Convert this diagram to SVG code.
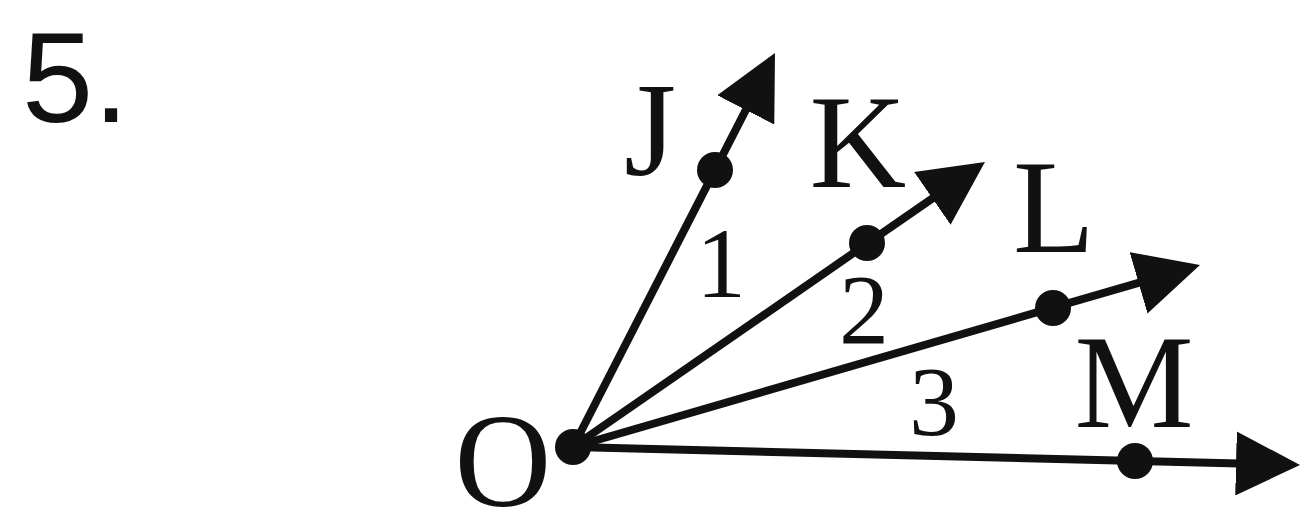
<svg xmlns="http://www.w3.org/2000/svg" width="1303" height="523" viewBox="0 0 1303 523">
  <style>
    .ray { stroke: #111; stroke-width: 8; fill: none; marker-end: url(#arrow); }
    .dot { fill: #111; }
    .lbl { font-family: "Liberation Serif", "Times New Roman", serif; font-size: 134px; fill: #111; text-anchor: middle; }
    .num { font-family: "Liberation Serif", "Times New Roman", serif; font-size: 100px; fill: #111; text-anchor: middle; }
    .title { font-family: "Liberation Sans", Arial, sans-serif; font-size: 128px; fill: #111; }
  </style>
  <defs>
    <marker id="arrow" markerUnits="userSpaceOnUse" viewBox="0 0 64 64" refX="34" refY="32" markerWidth="64" markerHeight="64" orient="auto">
      <path d="M0,0 L64,32 L0,64 z" fill="#111"/>
    </marker>
  </defs>
  <rect width="1303" height="523" fill="#fff"/>
  <text class="title" x="22" y="122">5.</text>
  <g id="connectors">
    <line class="ray" x1="573" y1="447" x2="761.3" y2="79.7"/>
    <line class="ray" x1="573" y1="447" x2="960.3" y2="179.1"/>
    <line class="ray" x1="573" y1="447" x2="1171.2" y2="273.4"/>
    <line class="ray" x1="573" y1="447" x2="1270" y2="464.3"/>
  </g>
  <g id="node-O">
    <circle class="dot" cx="573" cy="447" r="18"/>
    <text class="lbl" x="503" y="506">O</text>
  </g>
  <g id="node-J">
    <circle class="dot" cx="715" cy="170" r="18"/>
    <text class="lbl" x="650" y="175">J</text>
  </g>
  <g id="node-K">
    <circle class="dot" cx="867" cy="243" r="18"/>
    <text class="lbl" x="858" y="187">K</text>
  </g>
  <g id="node-L">
    <circle class="dot" cx="1053" cy="308" r="18"/>
    <text class="lbl" x="1054" y="252">L</text>
  </g>
  <g id="node-M">
    <circle class="dot" cx="1135" cy="461" r="18"/>
    <text class="lbl" x="1134" y="427">M</text>
  </g>
  <g id="angle-labels">
    <text class="num" x="721" y="297">1</text>
    <text class="num" x="864" y="343">2</text>
    <text class="num" x="934" y="435">3</text>
  </g>
</svg>
